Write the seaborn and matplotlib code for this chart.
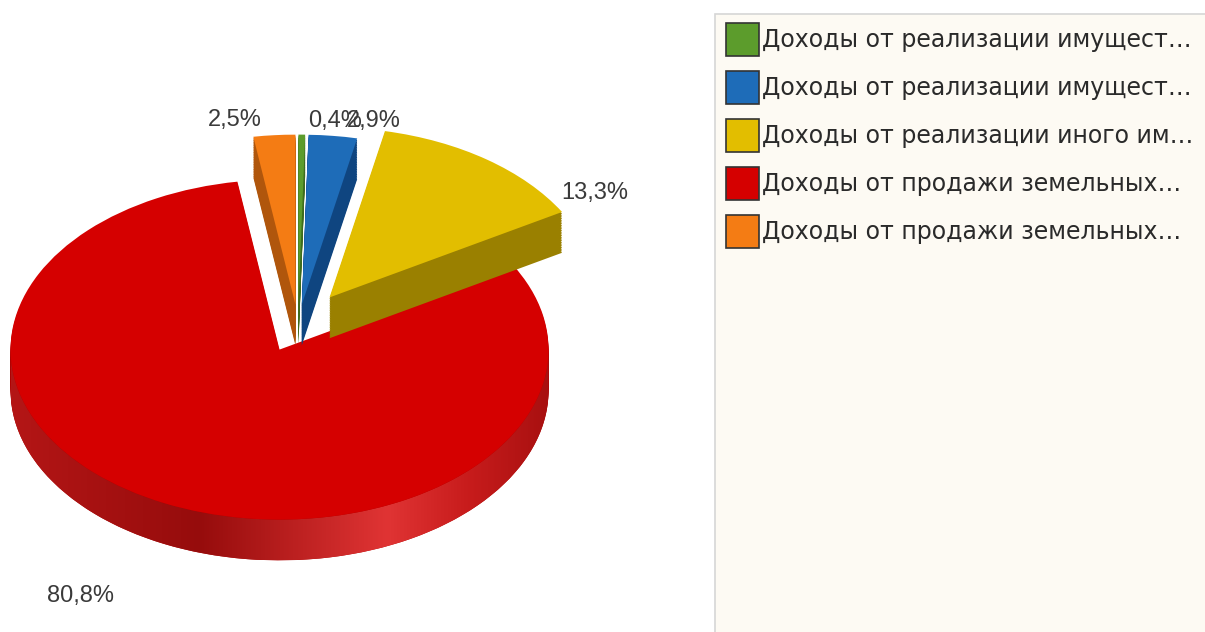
"""Exploded 3D-style pie: revenue shares from property and land sales."""
import matplotlib
matplotlib.use("Agg")
import matplotlib.pyplot as plt
import numpy as np
import seaborn as sns
from matplotlib.colors import LinearSegmentedColormap
from matplotlib.patches import Patch, Polygon, Rectangle

# data
SHARES = [0.4, 2.9, 13.3, 80.8, 2.5]
VALUE_LABELS = ["0,4%", "2,9%", "13,3%", "80,8%", "2,5%"]
LEGEND_LABELS = [
    "Доходы от реализации имущест…",
    "Доходы от реализации имущест…",
    "Доходы от реализации иного им…",
    "Доходы от продажи земельных…",
    "Доходы от продажи земельных…",
]

# style
TOP_COLORS = ["#5c9c2c", "#1e6cb8", "#e2be00", "#d50000", "#f47c14"]
SIDE_COLORS = ["#3e6c1e", "#0f4580", "#9a8000", "#b00000", "#b0560c"]
EXPLODE = [0.12, 0.12, 0.2, 0.16, 0.12]
DRAW_RANK = [2, 3, 4, 0, 1]          # red in front is drawn first
LABEL_POLAR = [(83.5, 1.21), (76.8, 1.23), (35.2, 1.35), (243.1, 1.79), (101.0, 1.23)]
DEPTH = 0.24
N_LAYERS = 24

W, H = 1205, 632
sns.set_theme(style="white")
plt.rcParams["font.family"] = ["DejaVu Sans"]

fig = plt.figure(figsize=(W / 100, H / 100), dpi=100)
fig.patch.set_facecolor("white")
ax = fig.add_axes([0, 0, 711 / W, 1])

# extruded side layers, bottom to top
for k, d in enumerate(np.linspace(DEPTH, 0, N_LAYERS + 1)):
    top = k == N_LAYERS
    wedges, _ = ax.pie(
        SHARES, explode=EXPLODE, startangle=90, counterclock=False,
        colors=TOP_COLORS if top else SIDE_COLORS, center=(0, -d),
        radius=1, wedgeprops=dict(linewidth=0),
    )
    for i, w in enumerate(wedges):
        w.set_zorder(10 + DRAW_RANK[i] * 50 + k)
    if top:
        top_wedges = wedges

# shaded front rim of the big slice
red = top_wedges[3]
cx, cy = red.center
t = np.linspace(np.pi, 2 * np.pi, 200)
upper = np.column_stack([cx + np.cos(t), cy + np.sin(t)])
lower = upper[::-1] - [0, DEPTH]
rim = Polygon(np.vstack([upper, lower]), closed=True, fill=False, lw=0)
ax.add_patch(rim)
cmap = LinearSegmentedColormap.from_list(
    "rim", [(0, "#b41616"), (0.35, "#960c0c"), (0.7, "#e03434"),
            (0.85, "#c81c1c"), (1, "#a81010")])
grad = np.linspace(0, 1, 256)[None, :]
im = ax.imshow(grad, cmap=cmap, aspect="auto",
               extent=(cx - 1, cx + 1, cy - 1 - DEPTH, cy), zorder=10 + N_LAYERS - 0.5)
im.set_clip_path(rim)

# value labels
for txt, (ang, dist) in zip(VALUE_LABELS, LABEL_POLAR):
    a = np.deg2rad(ang)
    ax.text(dist * np.cos(a), dist * np.sin(a), txt, ha="center", va="center",
            fontsize=17, color="#3a3a3a", family=["Liberation Sans", "DejaVu Sans"],
            zorder=400)

ax.set_aspect("auto")
ax.set_xlim(-298 / 269, (711 - 298) / 269)
ax.set_ylim(-307 / 170, (H - 307) / 170)
ax.axis("off")

# legend panel
fig.patches.append(Rectangle((715 / W, -0.01), 0.5, 1 - 14 / H + 0.01,
                             transform=fig.transFigure, facecolor="#fdfaf3",
                             edgecolor="#d6d6d6", linewidth=1.2, zorder=0))
handles = [Patch(facecolor=c, edgecolor="#333333", linewidth=1.2) for c in TOP_COLORS]
leg = fig.legend(
    handles, LEGEND_LABELS, loc="upper left",
    bbox_to_anchor=(726 / W, 1 - 23 / H), frameon=False, borderpad=0,
    borderaxespad=0, handlelength=1.4, handleheight=1.77, handletextpad=0.12,
    labelspacing=0.64, prop=dict(family="DejaVu Sans", size=17),
)
for tx in leg.get_texts():
    tx.set_color("#2a2a2a")

fig.savefig("out.png", dpi=100)
